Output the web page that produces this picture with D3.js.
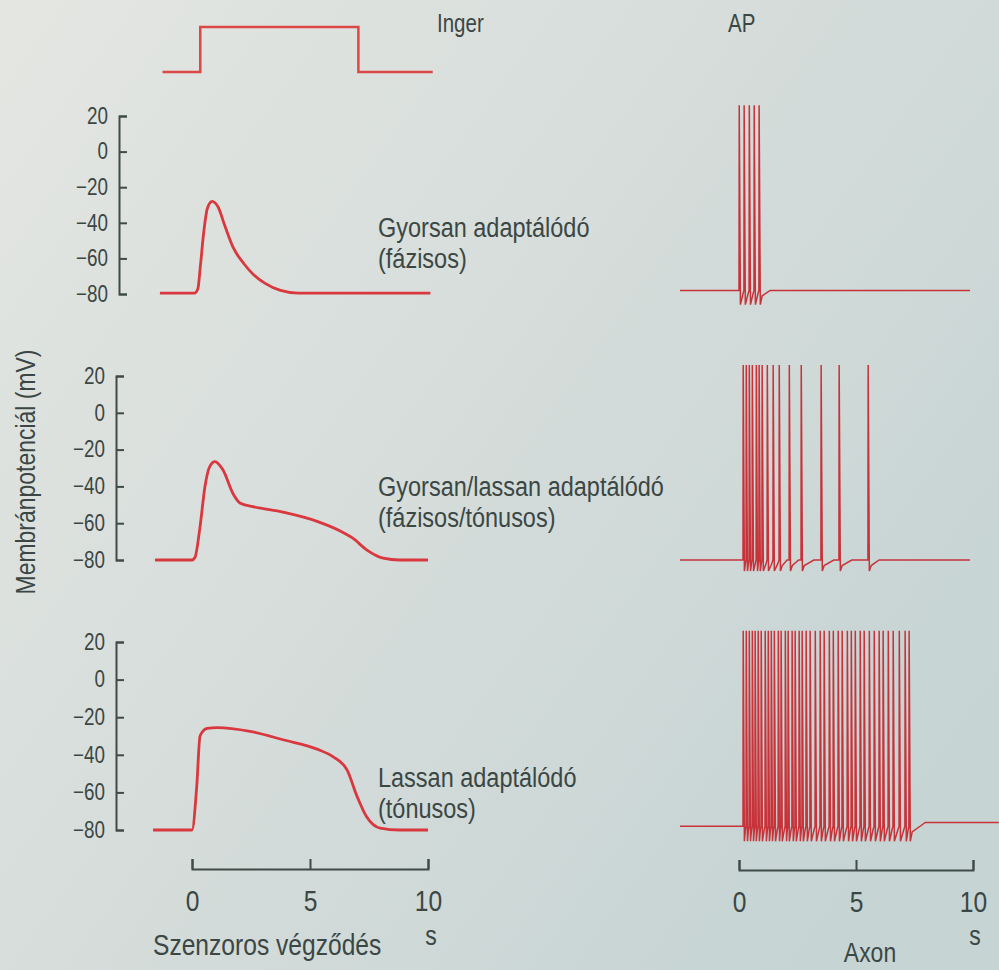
<!DOCTYPE html>
<html>
<head>
<meta charset="utf-8">
<script src="https://cdn.jsdelivr.net/npm/d3@7"></script>
<style>
  body { margin: 0; background: #d8dfdc; }
  svg { display: block; }
  text { font-family: "Liberation Sans", Arial, sans-serif; fill: #3b4744; }
</style>
</head>
<body>
<div id="chart"></div>
<script>
// ---- data ----
const timeTicks = [0, 5, 10];
const mvTicks = [20, 0, -20, -40, -60, -80];

// stimulus step (0 = off, 1 = on)
const stimTime = [-1.25, 0.35, 0.35, 7.05, 7.05, 10.2];
const stimLevel = [0, 0, 1, 1, 0, 0];

// receptor potentials (s, mV)
const phasicTime = [-1.36, 0.1, 0.25, 0.35, 0.5, 0.65, 0.85, 1.1, 1.4, 1.75, 2.2, 2.6, 3.1, 3.75, 4.5, 10.1];
const phasicMv = [-79.5, -79.5, -77, -65, -45, -32, -28, -31, -42, -54, -63, -69, -74, -78, -79.5, -79.5];

const mixedTime = [-1.57, 0.0, 0.13, 0.34, 0.55, 0.76, 0.97, 1.31, 1.74, 2.03, 2.58, 3.86, 5.3, 6.4, 6.8, 7.4, 8.1, 8.8, 10.0];
const mixedMv = [-80, -80, -78.5, -62, -40, -29, -26.5, -31, -44, -49, -51, -54, -59, -65, -68, -74.5, -79, -80, -80];

const tonicTime = [-1.65, 0.0, 0.2, 0.34, 0.64, 1.06, 2.46, 3.86, 5.3, 5.97, 6.57, 6.99, 7.4, 7.97, 8.8, 10.0];
const tonicMv = [-80, -80, -57, -30, -26, -25.5, -27.5, -32, -37, -41, -48, -62, -73, -79, -80, -80];

// action potential times on the axon (s)
const apFast = [0.0, 0.21, 0.43, 0.64, 0.85];
const apMixed = [0.17, 0.30, 0.43, 0.56, 0.73, 0.85, 0.98, 1.20, 1.45, 1.71, 2.14, 2.65, 3.50, 4.27, 5.51];
const apSlow = [0.17, 0.30, 0.43, 0.56, 0.68, 0.81, 0.94, 1.11, 1.24, 1.37, 1.50, 1.67, 1.79, 1.97, 2.09,
  2.26, 2.39, 2.56, 2.69, 2.86, 3.03, 3.25, 3.46, 3.63, 3.85, 4.02, 4.23, 4.40, 4.62, 4.79, 4.96, 5.17,
  5.34, 5.56, 5.77, 5.98, 6.15, 6.37, 6.58, 6.84, 7.09, 7.26];
const apPeak = 26;
const apTrough = -86;
const apRestBefore = [-78, -80, -78];
const apRestAfter = [-78, -80, -76];
const apSpan = [[-2.52, 9.87], [-2.52, 9.87], [-2.52, 11.1]];

const rowLabels = [
  ["Gyorsan adaptálódó", "(fázisos)"],
  ["Gyorsan/lassan adaptálódó", "(fázisos/tónusos)"],
  ["Lassan adaptálódó", "(tónusos)"]
];

// ---- canvas ----
const width = 999, height = 970;
const narrow = 0.82; // squeeze for the condensed lettering
const svg = d3.select("#chart").append("svg")
  .attr("width", width)
  .attr("height", height);

const grad = svg.append("defs").append("linearGradient")
  .attr("id", "paper").attr("x1", 0).attr("y1", 0).attr("x2", 1).attr("y2", 0.7);
grad.append("stop").attr("offset", 0).attr("stop-color", "#e4e6e2");
grad.append("stop").attr("offset", 0.5).attr("stop-color", "#d6dddb");
grad.append("stop").attr("offset", 1).attr("stop-color", "#c6d4d4");
svg.append("rect").attr("width", width).attr("height", height).attr("fill", "url(#paper)");

const red = "#d8383e";
const ink = "#3e4b47";

// scales
const xLeft = d3.scaleLinear().domain([0, 10]).range([192, 428]);
const xRight = d3.scaleLinear().domain([0, 10]).range([739, 973]);
const yStim = d3.scaleLinear().domain([0, 1]).range([72, 27]);

const rows = [
  { top: 116, bottom: 294, axisX: 119, time: phasicTime, mv: phasicMv, ap: apFast, labelY: 237 },
  { top: 376, bottom: 560, axisX: 116, time: mixedTime, mv: mixedMv, ap: apMixed, labelY: 496 },
  { top: 642, bottom: 830, axisX: 116, time: tonicTime, mv: tonicMv, ap: apSlow, labelY: 787 }
];

function addText(str, x, y, size, anchor, squeeze) {
  return svg.append("text")
    .attr("transform", `translate(${x},${y}) scale(${squeeze || narrow},1)`)
    .attr("font-size", size)
    .attr("text-anchor", anchor || "start")
    .text(str);
}

// stimulus
const stimLine = d3.line().x((d, i) => xLeft(stimTime[i])).y(d => yStim(d));
svg.append("path")
  .attr("d", stimLine(stimLevel))
  .attr("fill", "none")
  .attr("stroke", "#dc4846")
  .attr("stroke-width", 2.5);

addText("Inger", 437, 32, 25);
addText("AP", 728, 32, 25);

// build one axon trace from spike times
function spikeTrace(times, rest, restAfter, span) {
  const pts = [[span[0], rest]];
  times.forEach((ts, i) => {
    const gap = i < times.length - 1 ? times[i + 1] - ts : 0.6;
    pts.push([ts, rest], [ts + 0.01, apPeak], [ts + 0.06, apTrough]);
    if (gap > 0.3) {
      pts.push([ts + 0.14, rest - 3], [ts + Math.min(0.55, gap * 0.8), rest]);
    } else {
      pts.push([ts + gap * 0.8, rest - 2]);
    }
  });
  pts.push([times[times.length - 1] + 0.7, restAfter], [span[1], restAfter]);
  return pts;
}

rows.forEach((r, k) => {
  const y = d3.scaleLinear().domain([-80, 20]).range([r.bottom, r.top]);

  // membrane potential axis
  svg.append("g")
    .attr("transform", `translate(${r.axisX},0)`)
    .call(d3.axisLeft(y).tickValues(mvTicks).tickSize(-8).tickPadding(0))
    .call(g => g.selectAll("path, line").attr("stroke", ink).attr("stroke-width", 2))
    .call(g => g.selectAll("text")
      .attr("x", 0)
      .attr("transform", `translate(-11,0) scale(${narrow},1)`)
      .attr("font-size", 23)
      .attr("font-family", null)
      .attr("fill", ink));

  // receptor potential
  const trace = d3.line()
    .x((d, i) => xLeft(r.time[i]))
    .y(d => y(d))
    .curve(d3.curveMonotoneX);
  svg.append("path")
    .attr("d", trace(r.mv))
    .attr("fill", "none")
    .attr("stroke", red)
    .attr("stroke-width", 2.8)
    .attr("stroke-linejoin", "round");

  // axon spikes
  const spikes = d3.line().x(d => xRight(d[0])).y(d => y(d[1]));
  svg.append("path")
    .attr("d", spikes(spikeTrace(r.ap, apRestBefore[k], apRestAfter[k], apSpan[k])))
    .attr("fill", "none")
    .attr("stroke", "#c8333a")
    .attr("stroke-width", 1.5);

  addText(rowLabels[k][0], 378, r.labelY, 27, "start", 0.87);
  addText(rowLabels[k][1], 378, r.labelY + 31, 27, "start", 0.87);
});

// time axes
[[xLeft, 869], [xRight, 870]].forEach(([sc, yy]) => {
  svg.append("g")
    .attr("transform", `translate(0,${yy})`)
    .call(d3.axisBottom(sc).tickValues(timeTicks).tickSize(-10).tickSizeOuter(-10).tickPadding(21))
    .call(g => g.selectAll("path, line").attr("stroke", ink).attr("stroke-width", 2))
    .call(g => g.selectAll("text")
      .attr("transform", `scale(${narrow},1)`)
      .attr("font-size", 30)
      .attr("font-family", null)
      .attr("fill", ink));
});

addText("s", 431, 945, 28, "middle");
addText("s", 975, 945, 28, "middle");
addText("Szenzoros végződés", 153, 955, 30);
addText("Axon", 870, 962, 28, "middle");

// y label
svg.append("text")
  .attr("transform", `translate(35,472) rotate(-90) scale(${narrow},1)`)
  .attr("text-anchor", "middle")
  .attr("font-size", 28)
  .text("Membránpotenciál (mV)");
</script>
</body>
</html>
